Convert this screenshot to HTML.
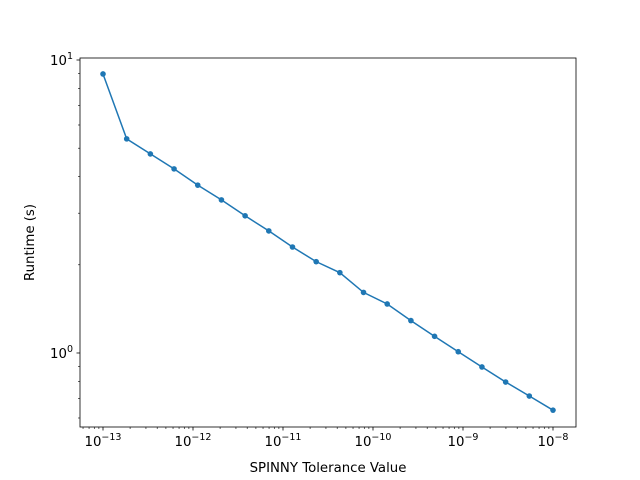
<!DOCTYPE html>
<html><head><meta charset="utf-8"><style>
body{margin:0;background:#fff}
svg{display:block;font-family:"DejaVu Sans","Liberation Sans",sans-serif}
</style></head><body>
<svg id="chart" width="640" height="480">
<rect x="0" y="0" width="640" height="480" fill="#fff"/>
<g id="plot"></g>
<text x="328" y="472" text-anchor="middle" font-size="13.3">SPINNY Tolerance Value</text>
<text transform="translate(34,242.5) rotate(-90)" text-anchor="middle" font-size="13.3">Runtime (s)</text>
</svg>
<script>
const xExponents=[-13,-12.7368,-12.4737,-12.2105,-11.9474,-11.6842,-11.4211,-11.1579,-10.8947,-10.6316,-10.3684,-10.1053,-9.8421,-9.5789,-9.3158,-9.0526,-8.7895,-8.5263,-8.2632,-8];
const runtimes=[8.96,5.38,4.78,4.25,3.74,3.33,2.94,2.61,2.30,2.05,1.88,1.61,1.47,1.29,1.14,1.01,0.896,0.796,0.713,0.638];
const xTickExps=[-13,-12,-11,-10,-9,-8];
const yTickExps=[0,1];
const L=80,R=576,T=58,B=427;
const xmin=-13.2556,xmax=-7.7444;
const ymin=Math.log10(0.559),ymax=1.0068;
const sx=e=>L+(e-xmin)/(xmax-xmin)*(R-L);
const sy=v=>B-(Math.log10(v)-ymin)/(ymax-ymin)*(B-T);
const g=document.getElementById('plot');
const NS='http://www.w3.org/2000/svg';
function mk(t,a){const e=document.createElementNS(NS,t);for(const k in a)e.setAttribute(k,a[k]);g.appendChild(e);return e;}
for(let d=-14;d<=-8;d++)for(let s=2;s<=9;s++){const e=d+Math.log10(s);if(e<xmin||e>xmax)continue;const x=sx(e);
const t=mk('line',{x1:x,x2:x,y1:B,y2:B+2,stroke:'#000','stroke-width':0.6});

}
for(let d=-1;d<=1;d++)for(let s=2;s<=9;s++){const v=s*Math.pow(10,d);const lv=Math.log10(v);if(lv<ymin||lv>ymax)continue;const y=sy(v);
const t=mk('line',{x1:L-2,x2:L,y1:y,y2:y,stroke:'#000','stroke-width':0.6});

}
xTickExps.forEach(e=>{const x=sx(e);
const t=mk('line',{x1:x,x2:x,y1:B,y2:B+3.5,stroke:'#000','stroke-width':0.8});


const tx=mk('text',{x:x,y:B+19,'text-anchor':'middle','font-size':13.3});
tx.innerHTML='10<tspan dy="-6" font-size="9.5">\u2212'+(-e)+'</tspan>';

});
yTickExps.forEach(e=>{const y=sy(Math.pow(10,e));
const t=mk('line',{x1:L-3.5,x2:L,y1:y,y2:y,stroke:'#000','stroke-width':0.8});


const tx=mk('text',{x:L-7,y:y+5,'text-anchor':'end','font-size':13.3});
tx.innerHTML='10<tspan dy="-6" font-size="9.5">'+e+'</tspan>';

});
const pts=xExponents.map((e,i)=>sx(e)+','+sy(runtimes[i])).join(' ');
const line=mk('polyline',{points:pts,fill:'none',stroke:'#1f77b4','stroke-width':1.5});


xExponents.forEach((e,i)=>{const c=mk('circle',{cx:sx(e),cy:sy(runtimes[i]),r:2.8,fill:'#1f77b4'});

});
const fr=mk('rect',{x:L,y:T,width:R-L,height:B-T,fill:'none',stroke:'#000','stroke-width':0.8});


</script>
</body></html>
